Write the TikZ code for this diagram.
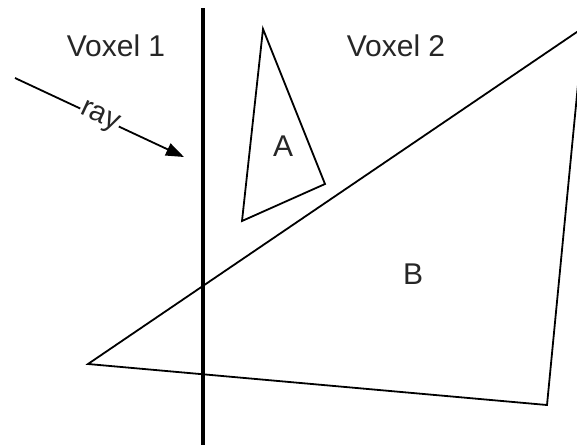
\documentclass[tikz,border=0pt]{standalone}
\usepackage{fontspec}
\setmainfont{Liberation Sans}
\usetikzlibrary{arrows.meta}
\begin{document}
\begin{tikzpicture}[x=1pt,y=-1pt,
  lbl/.style={font=\fontsize{30}{34}\selectfont, text=black!85, inner sep=0pt},
  poly/.style={line width=1.8pt, line join=miter}]
\useasboundingbox (0,0) rectangle (577,445);
% divider
\coordinate (vt) at (203,8);
\coordinate (vb) at (203,445);
\draw[line width=3.2pt] (vt) -- (vb);
% labels
\node[lbl] (v1) at (116,46) {Voxel 1};
\node[lbl] (v2) at (396,46) {Voxel 2};
% triangle A
\coordinate (a1) at (263,29);
\coordinate (a2) at (242,221);
\coordinate (a3) at (325,184);
\draw[poly] (a1) -- (a2) -- (a3) -- cycle;
\node[lbl] (A) at (283,146) {A};
% shape B
\begin{scope}
\clip (0,0) rectangle (577,445);
\coordinate (b1) at (88,364);
\coordinate (b2) at (583.5,27.5);
\coordinate (b3) at (547,405);
\draw[poly] (b1) -- (b2) -- (b3) -- cycle;
\end{scope}
\node[lbl] (B) at (413,274) {B};
% ray
\coordinate (r0) at (15,78);
\coordinate (r1) at (184,157);
\draw[line width=1.8pt, -{Triangle[length=18pt,width=13pt]}] (r0) -- node[lbl, sloped, fill=white, inner sep=1pt, font=\fontsize{29}{32}\selectfont] (ray) {ray} (r1);
\end{tikzpicture}
\end{document}
